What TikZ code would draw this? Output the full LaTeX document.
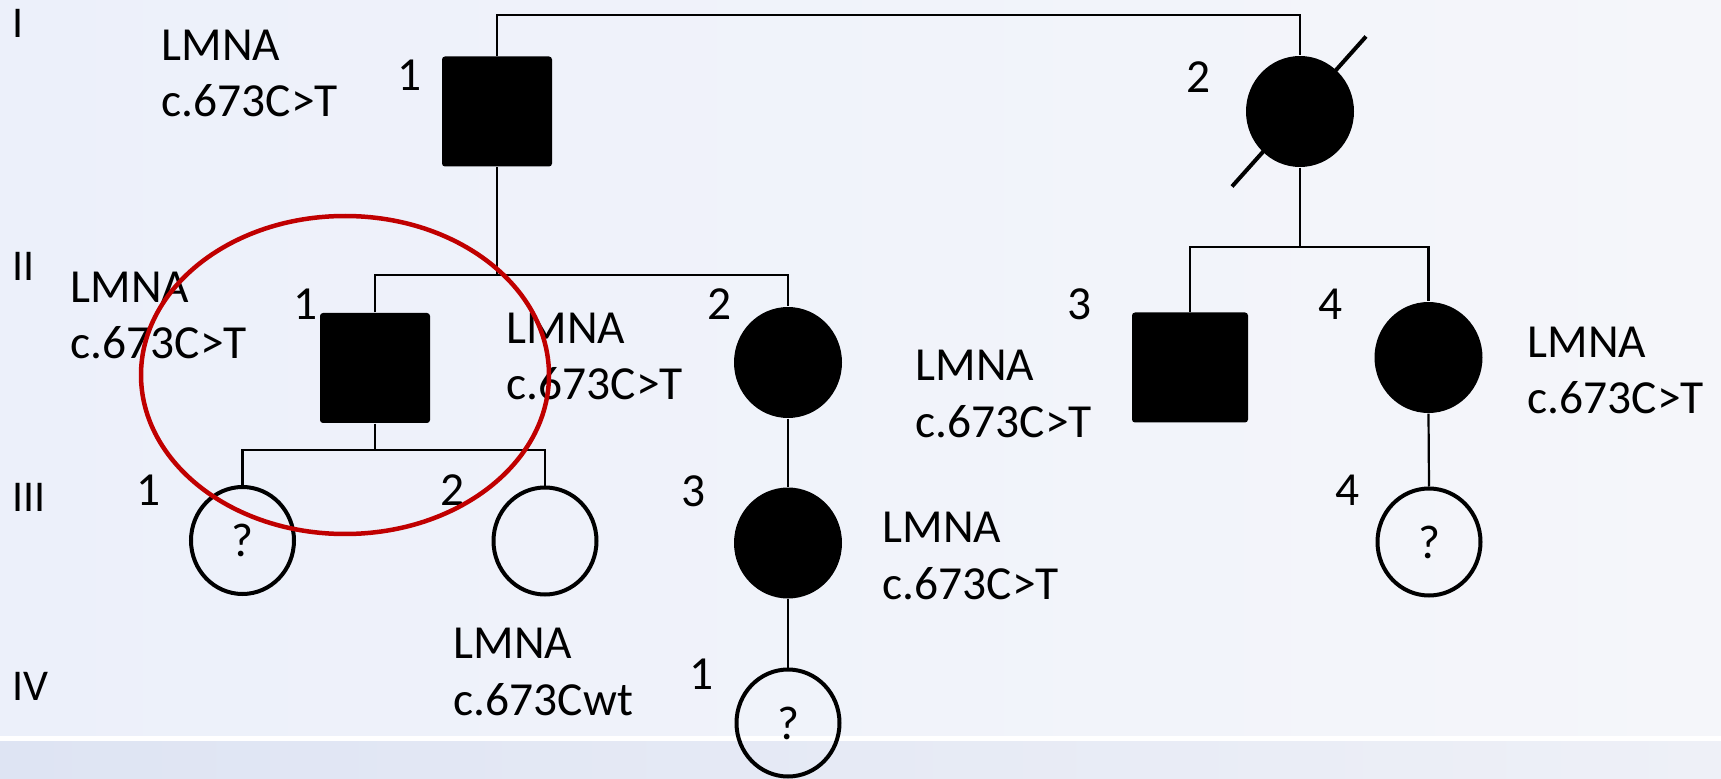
\documentclass[tikz,border=0pt]{standalone}
\usepackage{fontspec}
\setmainfont{Carlito}
\usepackage{tikz}
\usetikzlibrary{shapes.geometric, calc}
\definecolor{bgblue}{HTML}{ECF0FA}
\definecolor{bggray}{HTML}{F5F6FA}
\definecolor{bandblue}{HTML}{DEE4F3}
\definecolor{bandgray}{HTML}{EEF0F7}
\definecolor{markred}{HTML}{C00000}

\begin{document}
\begin{tikzpicture}[
    x=0.1mm, y=-0.1mm,
    every node/.style={font=\fontsize{13.5}{16.2}\selectfont, inner sep=0pt},
    link/.style={line width=0.22mm, black},
    maleaff/.style={fill=black, rectangle, rounded corners=0.3mm, minimum width=11mm, minimum height=11mm},
    femaff/.style={fill=black, ellipse, minimum width=10.8mm, minimum height=11.1mm},
    femunk/.style={draw, ellipse, line width=0.4mm, minimum width=10.3mm, minimum height=10.7mm},
    genelbl/.style={align=left, anchor=base west},
    idlbl/.style={anchor=center},
    genlbl/.style={anchor=west, font=\fontsize{12.5}{15}\selectfont}
]
    % background
    \useasboundingbox (0,0) rectangle (1721,779);
    \shade[left color=bgblue, right color=bggray] (0,0) rectangle (1721,738);
    \shade[left color=bandblue, right color=bandgray] (0,738) rectangle (1721,779);
    \draw[white, line width=0.5mm] (0,738) -- (1721,738);

    % generations
    \node[genlbl] (gen1) at (12,23) {I};
    \node[genlbl] (gen2) at (12,266) {II};
    \node[genlbl] (gen3) at (12,497) {III};
    \node[genlbl] (gen4) at (12,686) {IV};

    % individuals
    \node[maleaff] (i1) at (497,111.5) {};
    \node[femaff] (i2) at (1300,111.5) {};
    \node[maleaff] (ii1) at (375,368) {};
    \node[femaff] (ii2) at (788,362.5) {};
    \node[maleaff, minimum width=11.6mm] (ii3) at (1190,367.5) {};
    \node[femaff] (ii4) at (1428.5,357.5) {};
    \node[femunk] (iii1) at (242.5,540.5) {?};
    \node[femunk] (iii2) at (545,541) {};
    \node[femaff] (iii3) at (788,543) {};
    \node[femunk] (iii4) at (1429,542) {?};
    \node[femunk] (iv1) at (788,723) {?};

    \draw[line width=0.4mm] ($(i2.center)+(-68,75)$) -- ($(i2.center)+(66,-75)$);

    % numbers
    \node[idlbl] (n-i1) at (410,75) {1};
    \node[idlbl] (n-i2) at (1199,77) {2};
    \node[idlbl] (n-ii1) at (306,304) {1};
    \node[idlbl] (n-ii2) at (720,304) {2};
    \node[idlbl] (n-ii3) at (1080,304) {3};
    \node[idlbl] (n-ii4) at (1331,304) {4};
    \node[idlbl] (n-iii1) at (149,490) {1};
    \node[idlbl] (n-iii2) at (453,490) {2};
    \node[idlbl] (n-iii3) at (694,491) {3};
    \node[idlbl] (n-iii4) at (1348,490) {4};
    \node[idlbl] (n-iv1) at (702,674) {1};

    % genotypes (anchored on the last line)
    \node[genelbl] (g-i1) at (161,117) {LMNA\\c.673C>T};
    \node[genelbl] (g-ii1) at (70,359) {LMNA\\c.673C>T};
    \node[genelbl] (g-ii1b) at (506,400) {LMNA\\c.673C>T};
    \node[genelbl] (g-ii2) at (915,437) {LMNA\\c.673C>T};
    \node[genelbl] (g-ii4) at (1527,414) {LMNA\\c.673C>T};
    \node[genelbl] (g-iii3) at (882,599) {LMNA\\c.673C>T};
    \node[genelbl] (g-iii2) at (453,715) {LMNA\\c.673Cwt};

    % lines of descent
    \coordinate (mate) at (0,15);
    \coordinate (sibA) at (0,275);
    \coordinate (sibB) at (0,247);
    \coordinate (sibC) at (0,450);
    \draw[link] (i1.north) -- (i1.north |- mate) -| (i2.north);
    \draw[link] (i1.south) -- (i1.south |- sibA);
    \draw[link] (ii1.north) -- (ii1.north |- sibA) -| (ii2.north);
    \draw[link] (i2.south) -- (i2.south |- sibB);
    \draw[link] (ii3.north) -- (ii3.north |- sibB) -| (ii4.north);
    \draw[link] (ii1.south) -- (ii1.south |- sibC);
    \draw[link] (iii1.north) -- (iii1.north |- sibC) -| (iii2.north);
    \draw[link] (ii2.south) -- (iii3.north);
    \draw[link] (ii4.south) -- (iii4.north);
    \draw[link] (iii3.south) -- (iv1.north);

    % highlight
    \draw[markred, line width=0.45mm] (345,375) ellipse [x radius=20.4mm, y radius=15.9mm];
\end{tikzpicture}
\end{document}
